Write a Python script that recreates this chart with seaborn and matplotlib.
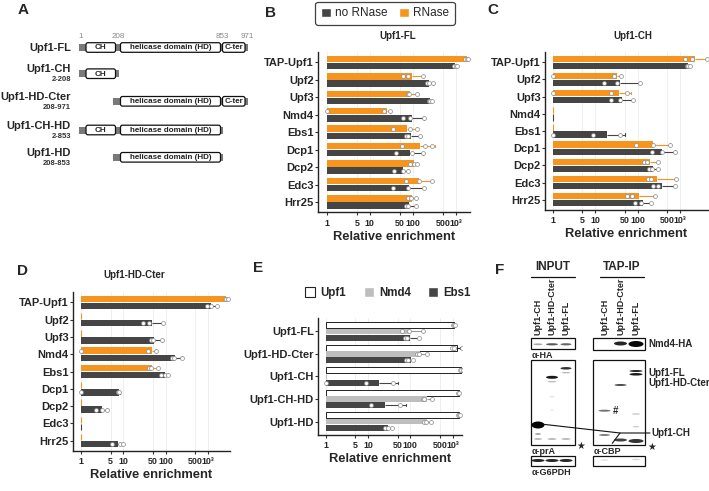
import numpy as np
import pandas as pd
import matplotlib
matplotlib.use("Agg")
import matplotlib.pyplot as plt
from matplotlib.patches import Patch, FancyBboxPatch, Rectangle, Ellipse
import seaborn as sns

sns.set_theme(style="white")
plt.rcParams["font.family"] = ["Liberation Sans", "DejaVu Sans"]

ORANGE = "#F7941D"
DARK = "#454545"
LIGHT = "#BEBEBE"

TICKS = [1, 5, 10, 50, 100, 500, 1000]
TICK_LABELS = ["1", "5", "10", "50", "100", "500", "10³"]

# ---- panel A: constructs ----
A_names = ["Upf1-FL", "Upf1-CH", "Upf1-HD-Cter", "Upf1-CH-HD", "Upf1-HD"]
A_ranges = ["", "2-208", "208-971", "2-853", "208-853"]
A_start = [1, 2, 208, 2, 208]
A_end = [971, 208, 971, 853, 853]
dom_names = ["CH", "helicase domain (HD)", "C-ter"]
dom_start = [1, 208, 853]
dom_end = [208, 853, 971]
res_marks = [1, 208, 853, 971]

# ---- panels B, C, D: enrichment with / without RNase ----
targets = ["TAP-Upf1", "Upf2", "Upf3", "Nmd4", "Ebs1", "Dcp1", "Dcp2", "Edc3", "Hrr25"]

B_rnase = [1800, 95, 86, 25, 72, 148, 109, 143, 96]
B_rnase_err = [1950, 170, 124, 30, 124, 330, 124, 286, 117]
B_rnase_pts = [[1650, 1850, 1950], [61, 79, 170], [79, 82, 124], [1, 21, 30], [35, 87, 124],
               [55, 193, 277], [87, 110, 124], [69, 143, 286], [79, 90, 117]]
B_norn = [960, 243, 252, 98, 91, 86, 58, 82, 82]
B_norn_err = [1080, 300, 277, 183, 148, 170, 79, 183, 117]
B_norn_pts = [[900, 1000, 1050], [212, 240, 300], [244, 250, 277], [58, 87, 183], [69, 79, 148],
              [40, 95, 170], [37, 61, 79], [34, 79, 183], [69, 76, 117]]

C_rnase = [2220, 33, 37, 1, 1, 233, 195, 285, 107]
C_rnase_err = [4200, 41, 68, 1, 1, 576, 305, 797, 255]
C_rnase_pts = [[1300, 1930, 4200], [1, 28, 41], [1, 23, 55], [], [], [90, 225, 576],
               [143, 163, 305], [172, 202, 797], [55, 72, 255]]
C_norn = [1550, 38, 42, 1, 18.6, 380, 225, 380, 135]
C_norn_err = [1750, 113, 76, 1, 50, 755, 305, 755, 205]
C_norn_pts = [[1420, 1550, 1700], [16, 32, 113], [24, 38, 76], [], [1, 8.7, 38],
              [213, 380, 755], [188, 221, 305], [225, 296, 755], [86, 120, 205]]

D_rnase = [2630, 1, 1, 46, 47, 1, 1, 1, 1]
D_rnase_err = [2985, 1, 1, 59, 67, 1, 1, 1, 1]
D_rnase_pts = [[2490, 2700, 2985], [], [], [1, 37, 59], [40, 44, 67], [], [], [], []]
D_norn = [1170, 46, 53, 165, 97, 7.9, 3.1, 1, 7.3]
D_norn_err = [1585, 84, 80, 237, 111, 8.2, 4.0, 1, 10]
D_norn_pts = [[955, 1143, 1585], [29.5, 40, 84], [45, 51, 80], [138, 160, 237], [78, 97, 111],
              [1, 7.6, 8.0], [2.3, 3.1, 4.0], [], [5.3, 8.3, 10]]

# ---- panel E: constructs pull-down ----
E_constructs = ["Upf1-FL", "Upf1-HD-Cter", "Upf1-CH", "Upf1-CH-HD", "Upf1-HD"]
E_series = ["Upf1", "Nmd4", "Ebs1"]
E_upf1 = [1057, 1270, 1610, 1390, 1443]
E_upf1_err = [1160, 1500, 1763, 1420, 1524]
E_upf1_pts = [[1050, 1100, 1160], [967, 1057, 1672], [1524, 1600, 1763], [1350, 1400], [1315, 1450, 1524]]
E_nmd4 = [99, 171, 1, 246, 246]
E_nmd4_err = [198, 246, 1, 335, 306]
E_nmd4_pts = [[63, 95, 198], [142, 160, 246], [], [198, 210, 335], [213, 240, 306]]
E_ebs1 = [99, 103, 18.5, 25, 29]
E_ebs1_err = [162, 114, 52, 79, 36]
E_ebs1_pts = [[75, 82, 162], [80, 90, 114], [1, 8.9, 38], [11.5, 57], [25, 29, 36]]

# ---- panel F: western blot ----
F_lanes = ["Upf1-CH", "Upf1-HD-Cter", "Upf1-FL"]
# (blot, lane, y, width, height, darkness)
F_bands = [
    ("HA_in", 0, 344.3, 9, 1.8, 0.35), ("HA_in", 1, 344.3, 12, 2.2, 0.65), ("HA_in", 2, 344.3, 11, 2.2, 0.6),
    ("HA_ip", 1, 343.5, 13, 4.0, 0.85), ("HA_ip", 2, 344.0, 15, 6.0, 0.97),
    ("prA", 2, 368.3, 11, 2.5, 0.8), ("prA", 2, 372.7, 9, 1.3, 0.3),
    ("prA", 1, 377.3, 12, 3.0, 0.9), ("prA", 1, 381.7, 9, 1.3, 0.3),
    ("prA", 1, 396.7, 5, 1.0, 0.15), ("prA", 1, 410.0, 4, 1.0, 0.12),
    ("prA", 0, 425.0, 13, 7.0, 0.98), ("prA", 0, 434.0, 6, 1.5, 0.45),
    ("prA", 0, 439.0, 8, 1.5, 0.35), ("prA", 1, 439.0, 9, 1.5, 0.35), ("prA", 2, 439.0, 9, 1.5, 0.35),
    ("CBP", 2, 371.0, 13, 2.0, 0.85), ("CBP", 2, 374.3, 13, 2.5, 0.9),
    ("CBP", 1, 385.0, 12, 2.0, 0.7), ("CBP", 0, 410.7, 12, 2.0, 0.55),
    ("CBP", 2, 414.0, 8, 1.3, 0.25), ("CBP", 2, 426.7, 7, 1.3, 0.2),
    ("CBP", 0, 435.0, 11, 2.0, 0.5), ("CBP", 1, 440.0, 13, 3.0, 0.75), ("CBP", 2, 441.0, 15, 4.0, 0.8),
    ("G6_in", 0, 460.5, 13, 3.0, 0.85), ("G6_in", 1, 460.5, 13, 3.0, 0.85), ("G6_in", 2, 460.5, 13, 3.0, 0.85),
    ("G6_ip", 0, 460.0, 8, 1.5, 0.12), ("G6_ip", 2, 459.5, 8, 1.5, 0.15),
]

W, H = 709, 491
fig = plt.figure(figsize=(W / 100, H / 100), dpi=100)
overlay = fig.add_axes([0, 0, 1, 1])
overlay.set_xlim(0, W)
overlay.set_ylim(H, 0)
overlay.axis("off")
overlay.patch.set_alpha(0)


def px_axes(l, t, r, b):
    return fig.add_axes([l / W, 1 - b / H, (r - l) / W, (b - t) / H])


def txt(x, y, s, **kw):
    kw.setdefault("va", "center")
    overlay.text(x, y, s, **kw)


def enrichment_panel(ax, cats, names, means, errs, pts, fills, lines, lo, hi, width=0.82):
    n = len(names)
    rows = []
    for j, name in enumerate(names):
        for cat, v in zip(cats, means[j]):
            rows.append({"cat": cat, "series": name, "logv": np.log10(v)})
    df = pd.DataFrame(rows)
    sns.barplot(data=df, x="logv", y="cat", hue="series", order=cats, hue_order=names,
                palette=dict(zip(names, fills)), orient="h", width=width, errorbar=None,
                saturation=1, legend=False, ax=ax)
    step = width / n
    for p in ax.patches:
        yc = p.get_y() + p.get_height() / 2
        i = int(round(yc))
        j = int(round((yc - i) / step + (n - 1) / 2))
        h = p.get_height() * 0.9
        p.set_y(yc - h / 2)
        p.set_height(h)
        if fills[j] == "white":
            p.set_edgecolor(lines[j])
            p.set_linewidth(0.7)
        elif p.get_width() < 0.01:
            p.set_edgecolor(fills[j])
            p.set_linewidth(0.8)
        else:
            p.set_linewidth(0)
    for j in range(n):
        off = (j - (n - 1) / 2) * step
        for i in range(len(cats)):
            y = i + off
            m, e = np.log10(means[j][i]), np.log10(errs[j][i])
            if e > m + 0.005:
                ax.plot([m, e], [y, y], color=lines[j], lw=0.8, zorder=3, solid_capstyle="butt")
                ax.plot([e, e], [y - step * 0.18, y + step * 0.18], color=lines[j], lw=0.8, zorder=3)
            if pts[j][i]:
                xs = np.log10(pts[j][i])
                ax.scatter(xs, [y] * len(xs), s=8, facecolor="white", edgecolor="#8a8a8a",
                           linewidth=0.5, zorder=4)
    ax.set_xlim(lo, hi)
    ax.set_ylim(len(cats) - 1 + 0.6, -0.6)
    ax.set_xticks(np.log10(TICKS))
    ax.set_xticklabels(TICK_LABELS)
    ax.set_xlabel("Relative enrichment", fontsize=9.3, fontweight="bold", labelpad=2)
    ax.set_ylabel("")
    sns.despine(ax=ax)
    for s in ["left", "bottom"]:
        ax.spines[s].set_color("#222222")
        ax.spines[s].set_linewidth(1.0)
    ax.grid(axis="x", color="#ececec", lw=0.6)
    ax.set_axisbelow(True)
    ax.tick_params(axis="x", bottom=True, length=2, width=0.8, pad=2.5, labelsize=6.4, color="#333333")
    ax.tick_params(axis="y", left=True, length=2, width=0.8, pad=1, labelsize=8, color="#333333")
    for lbl in ax.get_xticklabels() + ax.get_yticklabels():
        lbl.set_fontweight("bold")


def draw_constructs():
    rows_y = [47.5, 73.7, 101.3, 130.0, 157.3]
    xres = lambda r: np.interp(r, [1, 208, 853, 971], [84, 118, 222, 247])
    for k in range(len(A_names)):
        y = rows_y[k]
        if A_ranges[k]:
            txt(71, y - 4.5, A_names[k], ha="right", fontsize=8, fontweight="bold")
            txt(71, y + 6, A_ranges[k], ha="right", fontsize=5.5, fontweight="bold", color="#333333")
        else:
            txt(71, y, A_names[k], ha="right", fontsize=8, fontweight="bold")
        x0, x1 = xres(A_start[k]) - 5, xres(A_end[k]) + 1
        overlay.add_patch(Rectangle((x0, y - 3.5), x1 - x0, 7, color="#7a7a7a", lw=0, zorder=1))
        for d in range(len(dom_names)):
            if dom_start[d] >= A_start[k] - 1 and dom_end[d] <= A_end[k]:
                pads = [(2, 2.5), (2.5, 1.5), (0.5, 2)][d]
                bx0, bx1 = xres(dom_start[d]) + pads[0], xres(dom_end[d]) - pads[1]
                overlay.add_patch(FancyBboxPatch((bx0, y - 4.8), bx1 - bx0, 9.6,
                                                 boxstyle="round,pad=0,rounding_size=2",
                                                 fc="white", ec="#111111", lw=0.9, zorder=2))
                txt((bx0 + bx1) / 2, y + 0.3, dom_names[d], ha="center", fontsize=5.8,
                    fontweight="bold", color="#222222", zorder=3)
    for r in res_marks:
        txt(xres(r) - (3 if r == 1 else 0), 36, str(r), ha="center", fontsize=5.8, color="#888888")


def draw_blot():
    boxes = {"HA_in": (531, 338, 575, 349), "HA_ip": (593.3, 338, 645, 349.5),
             "prA": (531, 360, 575, 445), "CBP": (593.3, 360, 645, 445),
             "G6_in": (531, 455.7, 575, 465.7), "G6_ip": (593.3, 455.7, 645, 465.7)}
    lane_x = {"in": [538, 552, 566], "ip": [604.5, 620.5, 636]}
    for name, (l, t, r, b) in boxes.items():
        overlay.add_patch(Rectangle((l, t), r - l, b - t, fc="white", ec="#111111", lw=0.9, zorder=2))
    for blot, lane, y, w, h, dark in F_bands:
        side = "ip" if blot in ("HA_ip", "CBP", "G6_ip") else "in"
        g = str(round(1 - dark, 3))
        overlay.add_patch(Ellipse((lane_x[side][lane], y), w, h, fc=g, ec="none", zorder=3))
    for side, cx in (("in", 552.5), ("ip", 621.5)):
        txt(cx, 267, "INPUT" if side == "in" else "TAP-IP", ha="center", fontsize=8.5, fontweight="bold")
        overlay.plot([cx - 22, cx + 22], [276.5, 276.5], color="#111111", lw=0.9)
        for k, lane in enumerate(F_lanes):
            overlay.text(lane_x[side][k], 335, lane, rotation=90, ha="center", va="bottom",
                         fontsize=6.5, fontweight="bold")
    txt(531.5, 355.7, "α-HA", fontsize=6.5, fontweight="bold")
    txt(531.5, 452, "α-prA", fontsize=6.5, fontweight="bold")
    txt(594, 452, "α-CBP", fontsize=6.5, fontweight="bold")
    txt(531.5, 472.5, "α-G6PDH", fontsize=6.5, fontweight="bold")
    txt(648, 344, "Nmd4-HA", fontsize=7, fontweight="bold")
    txt(648.3, 372.7, "Upf1-FL", fontsize=7, fontweight="bold")
    txt(648.3, 383.5, "Upf1-HD-Cter", fontsize=7, fontweight="bold")
    txt(651, 432.5, "Upf1-CH", fontsize=7, fontweight="bold")
    txt(615.5, 411, "#", ha="center", fontsize=7, fontweight="bold")
    txt(581, 446, "★", ha="center", fontsize=7)
    txt(652, 447, "★", ha="center", fontsize=7)
    overlay.plot([543.3, 620, 650], [424.3, 433, 433], color="#111111", lw=0.8, zorder=4)
    overlay.plot([612.3, 620], [443.3, 433], color="#111111", lw=0.8, zorder=4)


def main():
    rn_names = ["RNase", "no RNase"]
    rn_fills = [ORANGE, DARK]

    ax_b = px_axes(318, 52, 470, 212.5)
    enrichment_panel(ax_b, targets, rn_names, [B_rnase, B_norn], [B_rnase_err, B_norn_err],
                     [B_rnase_pts, B_norn_pts], rn_fills, rn_fills, -0.202, 3.333)
    ax_c = px_axes(545, 52, 708, 210)
    enrichment_panel(ax_c, targets, rn_names, [C_rnase, C_norn], [C_rnase_err, C_norn_err],
                     [C_rnase_pts, C_norn_pts], rn_fills, rn_fills, -0.181, 3.654)
    ax_d = px_axes(73, 292, 230, 451)
    enrichment_panel(ax_d, targets, rn_names, [D_rnase, D_norn], [D_rnase_err, D_norn_err],
                     [D_rnase_pts, D_norn_pts], rn_fills, rn_fills, -0.189, 3.514)
    ax_e = px_axes(318, 318, 462, 435)
    enrichment_panel(ax_e, E_constructs, E_series, [E_upf1, E_nmd4, E_ebs1],
                     [E_upf1_err, E_nmd4_err, E_ebs1_err], [E_upf1_pts, E_nmd4_pts, E_ebs1_pts],
                     ["white", LIGHT, DARK], ["#222222", "#9a9a9a", DARK], -0.183, 3.223, width=0.84)

    txt(398, 36, "Upf1-FL", ha="center", fontsize=7, fontweight="bold")
    txt(633, 36, "Upf1-CH", ha="center", fontsize=7, fontweight="bold")
    txt(134, 275, "Upf1-HD-Cter", ha="center", fontsize=7, fontweight="bold")

    leg = fig.legend(handles=[Patch(facecolor=DARK), Patch(facecolor=ORANGE)],
                     labels=["no RNase", "RNase"], loc="center", ncol=2,
                     bbox_to_anchor=(385 / W, 1 - 13.3 / H), frameon=True, fancybox=True,
                     edgecolor="#111111", fontsize=8.5, handlelength=0.85, handleheight=0.85,
                     handletextpad=0.4, columnspacing=0.9, borderpad=0.45)
    leg.get_frame().set_linewidth(0.9)

    fig.legend(handles=[Patch(facecolor="white", edgecolor="#222222", lw=0.8),
                        Patch(facecolor=LIGHT), Patch(facecolor=DARK)],
               labels=E_series, loc="center", ncol=3, bbox_to_anchor=(388 / W, 1 - 293 / H),
               frameon=False, prop={"size": 8.3, "weight": "bold"}, handlelength=0.87,
               handleheight=0.87, handletextpad=0.45, columnspacing=1.5)

    draw_constructs()
    draw_blot()

    for letter, x, y in [("A", 23, 10), ("B", 270, 13), ("C", 493, 10),
                         ("D", 22, 271), ("E", 258, 268), ("F", 500, 270)]:
        txt(x, y, letter, ha="center", fontsize=11, fontweight="bold")

    fig.savefig("out.png", dpi=100)


if __name__ == "__main__":
    main()
